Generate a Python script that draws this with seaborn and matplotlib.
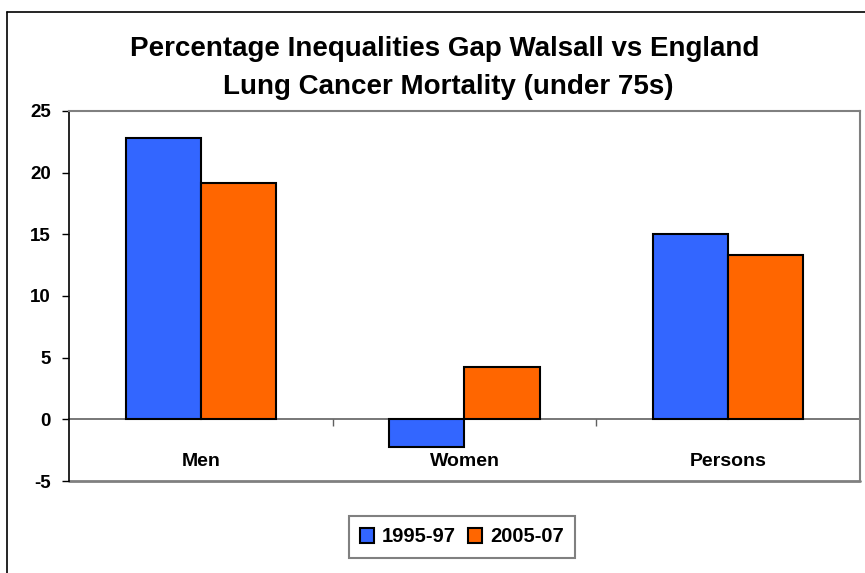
import matplotlib
matplotlib.use("Agg")
import matplotlib.pyplot as plt
from matplotlib.lines import Line2D
import seaborn as sns
import pandas as pd

# Data
groups = ["Men", "Women", "Persons"]
periods = ["1995-97", "2005-07"]
gap_1995_97 = [22.8, -2.25, 15.0]
gap_2005_07 = [19.2, 4.25, 13.35]
y_ticks = [-5, 0, 5, 10, 15, 20, 25]
title_lines = ["Percentage Inequalities Gap Walsall vs England",
               "Lung Cancer Mortality (under 75s)"]

colors = {"1995-97": "#3366FF", "2005-07": "#FF6600"}

df = pd.DataFrame({
    "group": groups * 2,
    "period": [periods[0]] * len(groups) + [periods[1]] * len(groups),
    "value": gap_1995_97 + gap_2005_07,
})

sns.set_theme(style="white")
plt.rcParams["font.family"] = ["Liberation Sans", "DejaVu Sans"]
plt.rcParams["font.weight"] = "bold"
for key in ["text.color", "axes.labelcolor", "xtick.labelcolor", "ytick.labelcolor"]:
    plt.rcParams[key] = "black"

W, H = 865, 573
fig = plt.figure(figsize=(W / 100, H / 100), dpi=100)
fig.patch.set_facecolor("white")

# outer chart border (left and top edges visible)
fig.add_artist(Line2D([7 / W, 7 / W], [-0.1, 1 - 12 / H], color="black", lw=1.2,
                      transform=fig.transFigure))
fig.add_artist(Line2D([7 / W, 1.1], [1 - 12 / H, 1 - 12 / H], color="black", lw=1.2,
                      transform=fig.transFigure))

left, right, top, bottom = 69, 860, 111, 481
ax = fig.add_axes([left / W, 1 - bottom / H, (right - left) / W, (bottom - top) / H])

sns.barplot(data=df, x="group", y="value", hue="period", order=groups,
            hue_order=periods, palette=colors, saturation=1, width=0.57, gap=0,
            edgecolor="black", linewidth=1.5, ax=ax, legend=True)

ax.set_ylim(-5, 25)
ax.set_xlim(-0.5, 2.5)
ax.set_yticks(y_ticks)
ax.set_yticklabels([str(t) for t in y_ticks], fontsize=13.5, fontweight="bold")
ax.set_xlabel("")
ax.set_ylabel("")

# plot-area frame
for side in ["top", "right"]:
    ax.spines[side].set_color("#808080")
    ax.spines[side].set_linewidth(1.5)
ax.spines["left"].set_color("black")
ax.spines["left"].set_linewidth(1.2)
ax.axhline(-5, color="#808080", lw=2.0, clip_on=False, zorder=0.5)

# category axis through zero
ax.spines["bottom"].set_position(("data", 0))
ax.spines["bottom"].set_color("#606060")
ax.spines["bottom"].set_linewidth(1.2)
ax.spines["bottom"].set_zorder(0.8)
ax.set_xticks(range(len(groups)))
ax.set_xticklabels(groups, fontsize=14, fontweight="bold")
ax.tick_params(axis="x", which="major", length=0, pad=24)
ax.set_xticks([0.5, 1.5], minor=True)
ax.tick_params(axis="x", which="minor", bottom=True, length=5, width=1, color="#606060",
               direction="out")
ax.tick_params(axis="y", left=True, length=5, width=1, color="black", direction="out",
               pad=8)

# title
fig.text(445 / W, 1 - 49 / H, title_lines[0], ha="center", va="center",
         fontsize=20, fontweight="bold")
fig.text(448 / W, 1 - 87 / H, title_lines[1], ha="center", va="center",
         fontsize=20, fontweight="bold")

# legend
handles, labels = ax.get_legend_handles_labels()
ax.get_legend().remove()
for h in handles:
    h.set_edgecolor("black")
    h.set_linewidth(1.5)
leg = fig.legend(handles, labels, loc="center", bbox_to_anchor=(462 / W, 1 - 537 / H),
                 ncol=2, frameon=True, fancybox=False, edgecolor="#808080",
                 framealpha=1, handlelength=0.7, handleheight=0.7, handletextpad=0.4,
                 columnspacing=0.6, borderpad=0.55,
                 prop={"size": 14.5, "weight": "bold"})
leg.get_frame().set_linewidth(1.5)

fig.savefig("out.png", dpi=100, facecolor="white")
